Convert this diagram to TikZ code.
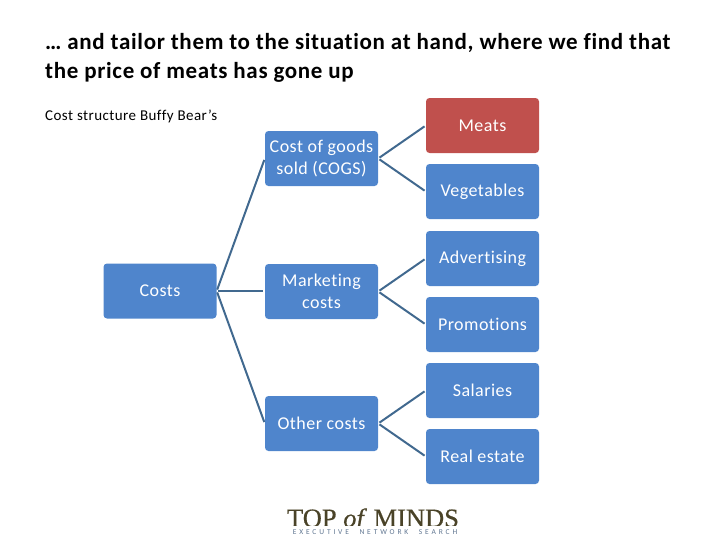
\documentclass[tikz,border=0pt]{standalone}
\usepackage{fontspec}
\setmainfont[Ligatures=NoCommon]{Carlito}
\newfontfamily\logofont[FakeBold=0.6]{Liberation Serif}
\definecolor{boxblue}{HTML}{4F85CC}
\definecolor{boxred}{HTML}{C0504D}
\definecolor{linkblue}{HTML}{41698F}
\definecolor{logoolive}{HTML}{4A4328}
\definecolor{logoblue}{HTML}{5F7590}
\tikzset{
  costbox/.style={draw=none,fill=boxblue,rounded corners=3.5pt,minimum width=113pt,minimum height=55pt,inner sep=0pt,align=center,text=white,font=\fontsize{18}{22}\selectfont\addfontfeature{LetterSpace=2.6}},
  redbox/.style={costbox,fill=boxred},
  link/.style={draw=linkblue,line width=2pt,shorten <=1.5pt,shorten >=1.5pt},
  titletext/.style={anchor=base west,inner sep=0pt,font=\fontsize{23}{24}\selectfont\bfseries\addfontfeature{LetterSpace=2.9}},
}
\begin{document}
\begin{tikzpicture}[x=1pt,y=-1pt]
\useasboundingbox (0,0) rectangle (728,546);
\node[titletext] (title1) at (45,49) {… and tailor them to the situation at hand, where we find that};
\node[titletext] (title2) at (45,78) {the price of meats has gone up};
\node[anchor=base west,inner sep=0pt,font=\fontsize{15}{17}\selectfont\addfontfeature{LetterSpace=3}] (sub) at (45,120) {Cost structure Buffy Bear’s};
\node[costbox] (costs) at (160,291) {Costs};
\node[costbox] (cogs) at (321.5,158.5) {Cost of goods\\sold (COGS)};
\node[costbox] (mkt) at (321.5,291.5) {Marketing\\costs};
\node[costbox] (other) at (321.5,423.5) {Other costs};
\node[redbox] (meats) at (482.5,125.5) {Meats};
\node[costbox] (veg) at (482.5,191.5) {Vegetables};
\node[costbox] (adv) at (482.5,258.5) {Advertising};
\node[costbox] (promo) at (482.5,324.5) {Promotions};
\node[costbox] (sal) at (482.5,390.5) {Salaries};
\node[costbox] (real) at (482.5,456.5) {Real estate};
\foreach \a/\b in {costs/cogs,costs/other,cogs/meats,cogs/veg,mkt/adv,mkt/promo,other/sal,other/real}
  \draw[link] (\a.east) -- (\b.west);
\draw[link] (costs.east) -- (mkt.west |- costs.east);
\begin{scope}
\clip (280,500) rectangle (470,525.5);
\node[anchor=base,inner sep=0pt,text=logoolive,font=\logofont\fontsize{26.5}{28}\selectfont] (logo) at (373,527) {TOP \textit{of} MINDS};
\end{scope}
\node[anchor=base,inner sep=0pt,text=logoblue,font=\fontsize{7.5}{9}\selectfont] (tag) at (375,534) {\addfontfeature{LetterSpace=38}EXECUTIVE\hspace{6pt} NETWORK\hspace{6pt} SEARCH};
\end{tikzpicture}
\end{document}
